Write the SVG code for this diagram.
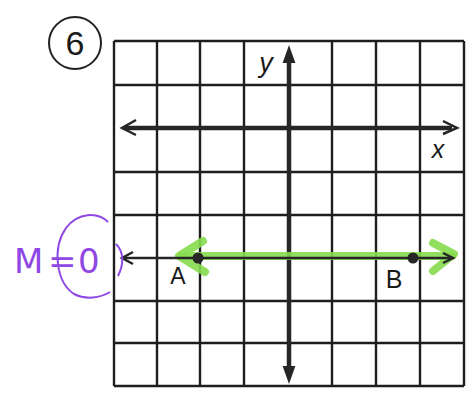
<svg xmlns="http://www.w3.org/2000/svg" width="474" height="412" viewBox="0 0 474 412">
<style>
.grid{stroke:#1e1e1e;stroke-width:2.4;fill:none}
.axis{stroke:#262626;stroke-width:4.5;fill:none;stroke-linecap:butt}
.head{stroke:#262626;stroke-width:2.5;fill:none;stroke-linejoin:miter}
.lbl{font-family:"Liberation Sans",Arial,sans-serif;fill:#1a1a1a}
.green{stroke:#86dc4e;fill:none;stroke-linecap:round;stroke-linejoin:round;opacity:0.9}
.purple{fill:#8f48e3;font-family:"DejaVu Sans","Liberation Sans",sans-serif}
</style>
<rect width="474" height="412" fill="#fff"/>
<g id="number-label">
  <circle cx="75" cy="43" r="26" fill="none" stroke="#222" stroke-width="2"/>
  <text x="75" y="55" text-anchor="middle" class="lbl" font-size="34">6</text>
</g>
<g id="grid">
  <path class="grid" d="M114 41H464M114 85H464M114 172H464M114 215H464M114 301H464M114 343H464M114 386H464M114 41V386M157 41V386M200 41V386M244 41V386M332 41V386M376 41V386M420 41V386M464 41V386"/>
</g>
<g id="connectors">
  <g id="x-axis">
    <line class="axis" x1="124" y1="128" x2="452" y2="128"/>
    <path class="head" d="M136 120L122 128L136 135"/>
    <path class="head" d="M443 121L457 128L443 134"/>
  </g>
  <g id="y-axis">
    <line class="axis" x1="289" y1="56" x2="289" y2="375"/>
    <path d="M289 48L284 62L294 62Z" fill="#262626" stroke="#262626" stroke-width="2"/>
    <path d="M289 381L284 367L294 367Z" fill="#262626" stroke="#262626" stroke-width="2"/>
  </g>
  <g id="green-line">
    <line class="green" x1="182" y1="256" x2="452" y2="256" stroke-width="8"/>
    <path class="green" d="M203 241L179 256L205 272" stroke-width="8"/>
    <path class="green" d="M433 243L454 254L433 271" stroke-width="8"/>
  </g>
  <g id="line-ab">
    <line x1="124" y1="258" x2="452" y2="258" stroke="#262626" stroke-width="2.5"/>
    <path class="head" d="M133 252L122 258L133 264"/>
    <path class="head" d="M443 253L453 258L443 263"/>
  </g>
</g>
<g id="point-a">
  <circle cx="198" cy="258" r="5.5" fill="#262626"/>
  <text x="178" y="284" text-anchor="middle" class="lbl" font-size="23">A</text>
</g>
<g id="point-b">
  <circle cx="413" cy="258" r="5.5" fill="#262626"/>
  <text x="394" y="288" text-anchor="middle" class="lbl" font-size="25">B</text>
</g>
<g id="axis-labels">
  <text x="266" y="72" text-anchor="middle" class="lbl" font-size="27" font-style="italic">y</text>
  <text x="438" y="158" text-anchor="middle" class="lbl" font-size="25" font-style="italic">x</text>
</g>
<g id="note">
  <text y="273" class="purple" font-size="34"><tspan x="14">M</tspan><tspan x="48">=</tspan><tspan x="78">0</tspan></text>
  <path d="M108 222C98 212 78 212 66 228C52 248 56 282 74 294C86 300 100 298 110 292" fill="none" stroke="#8f48e3" stroke-width="2"/>
  <path d="M116 244C124 252 124 264 118 276" fill="none" stroke="#8f48e3" stroke-width="2"/>
</g>
</svg>
